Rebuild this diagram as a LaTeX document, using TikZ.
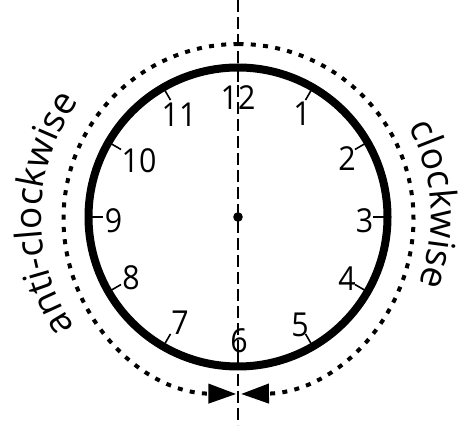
\documentclass[tikz,border=0pt]{standalone}
\usepackage{fontspec}
\setmainfont{Open Sans}
\newfontfamily\digitfont[FakeStretch=0.92]{Open Sans}
\newfontfamily\wordfont[LetterSpace=6]{Open Sans}
\usetikzlibrary{arrows.meta,decorations.text,calc}
\begin{document}
\begin{tikzpicture}[x=1pt,y=1pt,
  ring/.style={line width=8pt,draw=black},
  tickmark/.style={line width=1.6pt},
  dotring/.style={line width=4pt,dash pattern=on 5pt off 7.3pt},
  axisline/.style={line width=1.3pt,dash pattern=on 12pt off 5pt},
  num/.style={font=\digitfont\fontsize{33}{33}\selectfont,inner sep=0pt,anchor=center},
  arrowtip/.style={-{Triangle[length=28pt,width=19pt]}}
]
\useasboundingbox (0,0) rectangle (465,425);
\coordinate (C) at (238,208);
\coordinate (D) at (238.5,206);
% vertical dashed axis
\coordinate (top) at (238,425);
\coordinate (bot) at (238,0);
\draw[axisline] (top) -- (bot);
% clock face
\draw[ring] (C) circle[radius=149.5];
\foreach \a in {0,30,...,330}{
  \draw[tickmark] ($(C)+(\a:135)$) -- ($(C)+(\a:150)$);
}
\fill (C) circle[radius=4.8];
% numbers (pixel centres, y flipped)
\node[num] (n12) at (238,{425-97.5}) {12};
\node[num] (n1) at (302,{425-114}) {1};
\node[num] (n2) at (347,{425-159}) {2};
\node[num] (n3) at (364.5,{425-221}) {3};
\node[num] (n4) at (347,{425-279}) {4};
\node[num] (n5) at (300,{425-325}) {5};
\node[num] (n6) at (239,{425-341}) {6};
\node[num] (n7) at (180,{425-323}) {7};
\node[num] (n8) at (131,{425-278}) {8};
\node[num] (n9) at (113.5,{425-220.5}) {9};
\node[num] (n10) at (139,{425-160.5}) {10};
\node[num] (n11) at (179,{425-115}) {11};
% dotted arrows
\draw[dotring,arrowtip] ($(D)+(90:175)$) arc[start angle=90,end angle=269.3,radius=175];
\draw[dotring,arrowtip] ($(D)+(90:175)$) arc[start angle=90,end angle=-89.2,radius=175];
% curved words
\path[decorate,decoration={text along path,text align=center,
  text={|\wordfont\fontsize{37}{37}\selectfont|anti-clockwise}}]
  ($(C)+(219:197)$) arc[start angle=219,end angle=139,radius=197];
\path[decorate,decoration={text along path,text align=center,
  text={|\wordfont\fontsize{37}{37}\selectfont|clockwise}}]
  ($(C)+(43.7:193)$) arc[start angle=43.7,end angle=-36.3,radius=193];
\end{tikzpicture}
\end{document}
